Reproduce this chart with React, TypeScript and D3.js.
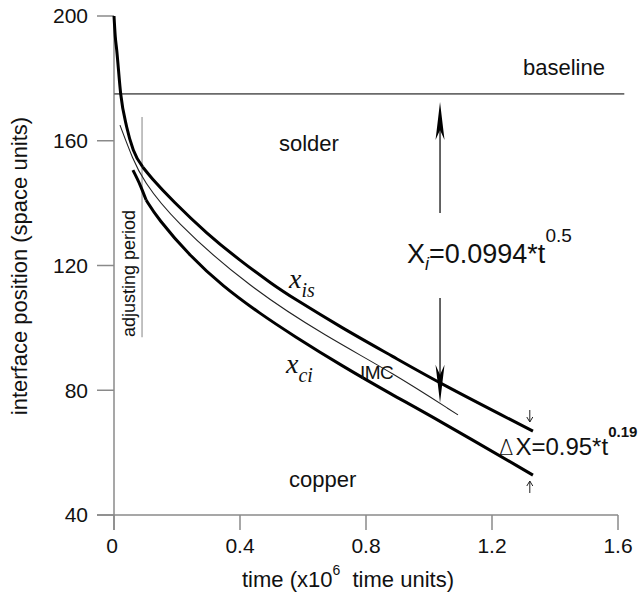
import React from "react";
import * as d3 from "d3";

// ---- data ----
const xTicks = [0, 0.4, 0.8, 1.2, 1.6];
const xTickLabels = ["0", "0.4", "0.8", "1.2", "1.6"];
const yTicks = [40, 80, 120, 160, 200];
const yTickLabels = ["40", "80", "120", "160", "200"];

// x_is : solder / IMC interface (adjusting period, then growth)
const tIsEarly = [0, 0.004, 0.0086, 0.0213, 0.0403, 0.0613, 0.091];
const vIsEarly = [200, 193.5, 189.1, 175.0, 164.4, 157.0, 151.6];
const tIs = [0.091, 0.114, 0.187, 0.295, 0.4, 0.505, 0.568, 0.727, 0.886, 1.035, 1.33];
const vIs = [151.6, 148.6, 140.6, 130.2, 121.6, 113.8, 109.6, 99.8, 90.8, 82.2, 66.9];

// x_ci : copper / IMC interface
const tCiEarly = [0.06, 0.083, 0.102];
const vCiEarly = [150.6, 145.8, 141.0];
const tCi = [0.102, 0.137, 0.241, 0.346, 0.463, 0.568, 0.727, 0.886, 1.013, 1.33];
const vCi = [141.0, 135.3, 123.0, 113.3, 104.6, 97.6, 87.6, 78.4, 71.4, 52.8];

// IMC fit (thin)
const tImc = [0.019, 0.06, 0.092, 0.187, 0.432, 0.676, 0.886, 1.092];
const vImc = [165.0, 154.0, 147.4, 134.6, 112.8, 97.1, 85.5, 72.1];

const baselineValue = 175;
const baselineEnd = 1.62;
const adjustT = 0.089;
const adjustRange = [167.6, 97];
const arrowT = 1.035;
const arrowUp = [136.8, 172.4]; // from, tip
const arrowDown = [109.6, 76.0]; // from, tip
const smallArrowT = 1.32;

export default function App() {
  const W = 644, H = 593;
  const x = d3.scaleLinear().domain([0, 1.6]).range([114, 618]);
  const y = d3.scaleLinear().domain([40, 200]).range([515, 16]);
  const line = d3
    .line<[number, number]>()
    .x((d) => x(d[0]))
    .y((d) => y(d[1]))
    .curve(d3.curveBasis);
  const lineM = d3
    .line<[number, number]>()
    .x((d) => x(d[0]))
    .y((d) => y(d[1]))
    .curve(d3.curveMonotoneX);
  const zip = (a: number[], b: number[]) => a.map((t, i) => [t, b[i]] as [number, number]);

  const axisColor = "#8a8a8a";
  const font = "Liberation Sans, Arial, sans-serif";

  const ax = x(arrowT);
  const upTip = y(arrowUp[1]);
  const upFrom = y(arrowUp[0]);
  const dnTip = y(arrowDown[1]);
  const dnFrom = y(arrowDown[0]);
  const headLen = 38, headW = 4.5, headNotch = 28;

  const sx = x(smallArrowT);

  return (
    <svg width={W} height={H} style={{ position: "absolute", left: 0, top: 0, background: "#fff" }} fontFamily={font}>
      {/* axes */}
      <line x1={x(0)} x2={x(0)} y1={y(200)} y2={530} stroke={axisColor} strokeWidth={1.5} />
      <line x1={97} x2={x(1.6)} y1={y(40)} y2={y(40)} stroke={axisColor} strokeWidth={1.5} />
      {yTicks.map((v, i) => (
        <g key={"y" + v}>
          <line x1={97} x2={x(0)} y1={y(v)} y2={y(v)} stroke={axisColor} strokeWidth={1.5} />
          <text x={88} y={y(v)} dy="0.35em" textAnchor="end" fontSize={21} fill="#111">
            {yTickLabels[i]}
          </text>
        </g>
      ))}
      {xTicks.map((t, i) => (
        <g key={"x" + t}>
          <line x1={x(t)} x2={x(t)} y1={y(40)} y2={530} stroke={axisColor} strokeWidth={1.5} />
          <text x={x(t) - (i === 0 ? 2 : 0)} y={553} textAnchor="middle" fontSize={21} fill="#111">
            {xTickLabels[i]}
          </text>
        </g>
      ))}
      {/* axis titles */}
      <text x={242} y={587} fontSize={22} fill="#111">
        time (x10
        <tspan fontSize={14} dy={-12}>6</tspan>
        <tspan dy={12}>{"\u00a0 time units)"}</tspan>
      </text>
      <text transform={`translate(27,266) rotate(-90)`} textAnchor="middle" fontSize={22} fill="#111">
        interface position (space units)
      </text>

      {/* baseline */}
      <line x1={x(0)} x2={x(baselineEnd)} y1={y(baselineValue)} y2={y(baselineValue)} stroke="#6a6a6a" strokeWidth={1.8} />
      <text x={523} y={75} fontSize={22} fill="#111">baseline</text>

      {/* adjusting period */}
      <line x1={x(adjustT)} x2={x(adjustT)} y1={y(adjustRange[0])} y2={y(adjustRange[1])} stroke="#999" strokeWidth={1.2} />
      <text transform={`translate(135,337) rotate(-90)`} fontSize={18} fill="#111">adjusting period</text>

      {/* curves */}
      <path d={lineM(zip(tIsEarly, vIsEarly)) || ""} fill="none" stroke="#000" strokeWidth={3} />
      <path d={line(zip(tIs, vIs)) || ""} fill="none" stroke="#000" strokeWidth={3} />
      <path d={lineM(zip(tCiEarly, vCiEarly)) || ""} fill="none" stroke="#000" strokeWidth={3} />
      <path d={line(zip(tCi, vCi)) || ""} fill="none" stroke="#000" strokeWidth={3} />
      <path d={line(zip(tImc, vImc)) || ""} fill="none" stroke="#222" strokeWidth={1.1} />

      {/* labels */}
      <text x={279} y={151} fontSize={22} fill="#111">solder</text>
      <text x={289} y={487} fontSize={22} fill="#111">copper</text>
      <text x={360} y={379} fontSize={19} fill="#111" letterSpacing={-0.5}>IMC</text>
      <text x={289} y={288} fontSize={28} fontStyle="italic" fontFamily="Liberation Serif, Times New Roman, serif" fill="#111">
        x<tspan fontSize={20} dy={9}>is</tspan>
      </text>
      <text x={286} y={373} fontSize={28} fontStyle="italic" fontFamily="Liberation Serif, Times New Roman, serif" fill="#111">
        x<tspan fontSize={20} dy={9}>ci</tspan>
      </text>

      {/* big arrows */}
      <line x1={ax} x2={ax} y1={upFrom} y2={upTip + headNotch} stroke="#000" strokeWidth={1.2} />
      <path d={`M${ax},${upTip} L${ax - headW},${upTip + headLen} L${ax},${upTip + headNotch} L${ax + headW},${upTip + headLen} Z`} fill="#000" />
      <line x1={ax} x2={ax} y1={dnFrom} y2={dnTip - headNotch} stroke="#000" strokeWidth={1.2} />
      <path d={`M${ax},${dnTip} L${ax - headW},${dnTip - headLen} L${ax},${dnTip - headNotch} L${ax + headW},${dnTip - headLen} Z`} fill="#000" />

      {/* formula */}
      <text x={407} y={263} fontSize={27} fill="#111">
        X<tspan fontSize={18} fontStyle="italic" dy={7}>i</tspan>
        <tspan dy={-7}>=0.0994*t</tspan>
        <tspan fontSize={19} dy={-21}>0.5</tspan>
      </text>

      {/* small arrows */}
      <g stroke="#222" strokeWidth={1} fill="none">
        <line x1={sx} x2={sx} y1={410} y2={422} />
        <path d={`M${sx - 3},${417} L${sx},${422} L${sx + 3},${417}`} />
        <line x1={sx} x2={sx} y1={481} y2={493} />
        <path d={`M${sx - 3},${486} L${sx},${481} L${sx + 3},${486}`} />
      </g>
      <text x={499} y={455} fill="#111">
        <tspan fontSize={21} fontFamily="DejaVu Sans, sans-serif" fontWeight={300}>Δ</tspan>
        <tspan fontSize={24} dx={2}>X=0.95*t</tspan>
        <tspan fontSize={15} fontWeight="bold" dy={-18}>0.19</tspan>
      </text>
    </svg>
  );
}
